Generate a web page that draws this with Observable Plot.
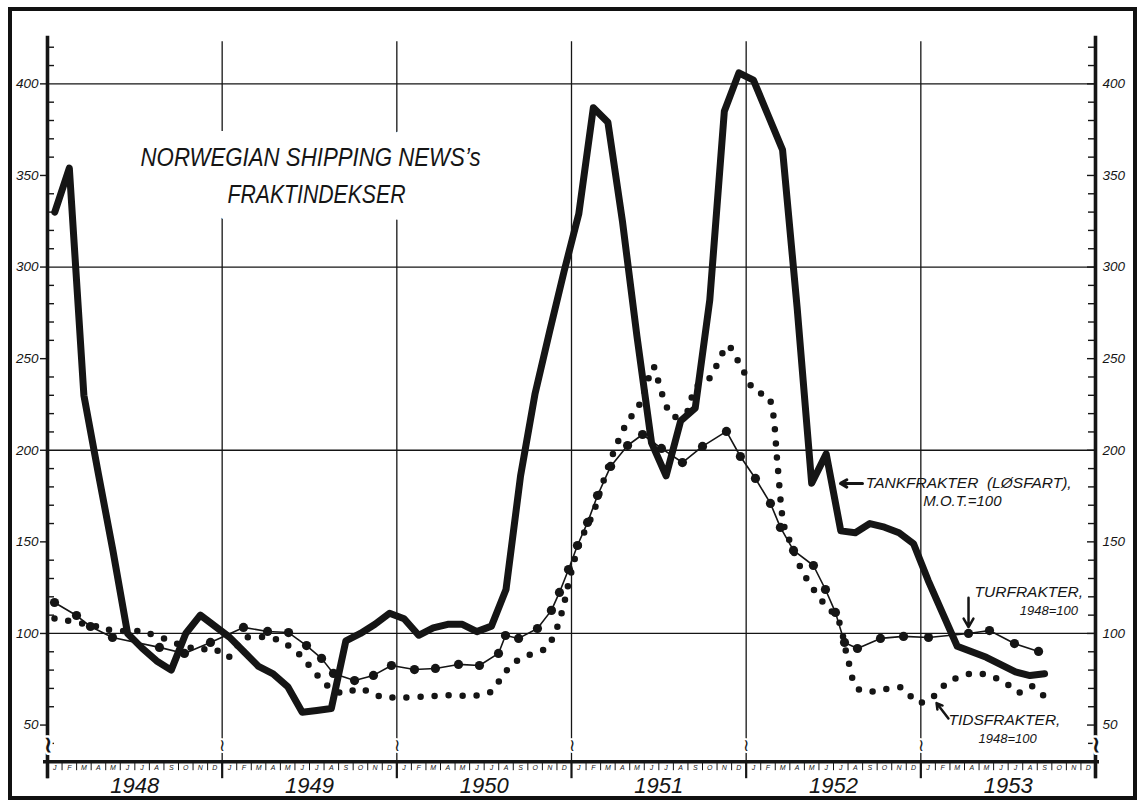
<!DOCTYPE html>
<html>
<head>
<meta charset="utf-8">
<script src="https://cdn.jsdelivr.net/npm/d3@7"></script>
<script src="https://cdn.jsdelivr.net/npm/@observablehq/plot@0.6"></script>
<style>
html, body { margin: 0; padding: 0; background: #fff; }
#wrap { position: relative; width: 1142px; height: 800px; overflow: hidden; }
#frame { position: absolute; left: 8px; top: 7px; width: 1121px; height: 785px; border: 4px solid #111; pointer-events: none; }
</style>
</head>
<body>
<div id="wrap"><div id="frame"></div></div>
<script>
// ---- axes / labels ----
const years = [1948, 1949, 1950, 1951, 1952, 1953];
const yearBounds = [1948, 1949, 1950, 1951, 1952, 1953, 1954];
const monthLetters = ["J","F","M","A","M","J","J","A","S","O","N","D"];
const yGrid = [100, 200, 300, 400];
const yMajor = [50, 100, 150, 200, 250, 300, 350, 400];
const yMinor = [40, 60, 70, 80, 90, 110, 120, 130, 140, 160, 170, 180, 190, 210, 220, 230, 240, 260, 270, 280, 290, 310, 320, 330, 340, 360, 370, 380, 390, 410, 420];
const titleLines = ["NORWEGIAN SHIPPING NEWS\u2019s", "FRAKTINDEKSER"];
const titleWidths = [340, 178];

// ---- Tankfrakter (løsfart), M.O.T.=100 : monthly, Jan 1948 .. Sep 1953 ----
const tankValues = [
  330, 354, 230, 187, 145, 100, 92, 85, 80, 100, 110, 104,
  98, 90, 82, 78, 71, 57, 58, 59, 96, 100, 105, 111,
  108, 99, 103, 105, 105, 101, 104, 124, 186, 231, 265, 298,
  329, 387, 379, 325, 262, 204, 186, 216, 223, 282, 385, 406,
  402, 383, 364, 278, 182, 198, 156, 155, 160, 158, 155, 149,
  129, 111, 93, 90, 87, 83, 79, 77, 78
];

// ---- Turfrakter, 1948=100 (decimal year, index) ----
const turDates = [
  1948.040, 1948.166, 1948.246, 1948.372, 1948.641, 1948.784, 1948.933,
  1949.122, 1949.260, 1949.380, 1949.483, 1949.569, 1949.637, 1949.758, 1949.866, 1949.969,
  1950.101, 1950.221, 1950.353, 1950.473, 1950.582, 1950.622, 1950.697, 1950.805, 1950.885, 1950.931, 1950.983,
  1951.034, 1951.092, 1951.149, 1951.224, 1951.321, 1951.407, 1951.515, 1951.635, 1951.750, 1951.887, 1951.967,
  1952.053, 1952.139, 1952.196, 1952.271, 1952.385, 1952.454, 1952.511, 1952.563, 1952.637, 1952.769, 1952.901,
  1953.044, 1953.273, 1953.393, 1953.536, 1953.674
];
const turValues = [
  116.9, 109.8, 103.8, 97.8, 92.4, 89.1, 95.1,
  103.3, 101.1, 100.5, 93.4, 86.4, 78.2, 74.3, 77.1, 82.5,
  80.3, 80.9, 83.1, 82.5, 89.1, 98.9, 97.3, 102.7, 112.6, 122.4, 134.9,
  148.0, 160.6, 175.3, 191.2, 202.6, 208.6, 201.0, 193.3, 202.1, 210.3, 196.6,
  184.6, 171.0, 157.9, 145.3, 137.1, 124.0, 111.5, 95.1, 91.8, 97.3, 98.4,
  97.8, 100.0, 101.6, 94.5, 90.2
];

// ---- Tidsfrakter, 1948=100 (decimal year, index) ----
const tidsDates = [
  1948.040, 1948.286, 1948.372, 1948.532, 1948.618, 1948.790, 1948.876, 1948.950, 1949.031, 1949.076,
  1949.122, 1949.288, 1949.368, 1949.443, 1949.546, 1949.609, 1949.695, 1949.786, 1949.866, 1949.958,
  1950.290, 1950.462, 1950.542, 1950.588, 1950.639, 1950.708, 1950.851, 1950.897, 1950.948, 1950.983,
  1951.046, 1951.126, 1951.166, 1951.223, 1951.309, 1951.395, 1951.441, 1951.469, 1951.492, 1951.538,
  1951.578, 1951.658, 1951.710, 1951.784, 1951.853, 1951.893, 1951.973, 1952.053, 1952.122, 1952.151,
  1952.179, 1952.214, 1952.237, 1952.328, 1952.454, 1952.523, 1952.580, 1952.637, 1952.723, 1952.889,
  1952.981, 1953.050, 1953.164, 1953.313, 1953.473, 1953.559, 1953.639, 1953.725
];
const tidsValues = [
  108.2, 103.8, 101.6, 101.1, 98.9, 92.9, 91.3, 91.8, 86.9, 91.8,
  97.3, 97.3, 94.0, 88.5, 77.1, 71.1, 67.2, 70.0, 66.7, 65.1,
  66.2, 66.2, 68.3, 74.3, 80.9, 86.4, 91.8, 98.4, 112.6, 127.3,
  149.1, 166.0, 178.1, 194.4, 213.5, 226.1, 239.2, 245.7, 239.2, 225.5,
  218.4, 220.6, 234.3, 238.6, 250.7, 257.2, 245.2, 232.1, 229.9, 221.7,
  192.8, 160.0, 153.5, 132.8, 115.3, 108.2, 86.9, 70.0, 68.3, 70.5,
  62.3, 64.0, 73.8, 78.2, 73.8, 67.8, 71.1, 63.4
];

const X0 = 1948, X1 = 1954, YB = 30, YT = 426;
const tank = tankValues.map((v, i) => ({x: X0 + (i + 0.5) / 12, v}));
const tur = turDates.map((d, i) => ({x: d, v: turValues[i]}));
const tids = tidsDates.map((d, i) => ({x: d, v: tidsValues[i]}));
const monthTicks = years.flatMap(y => monthLetters.map((m, k) => y + k / 12));
const monthLabels = years.flatMap(y => monthLetters.map((m, k) => ({x: y + (k + 0.5) / 12, t: m})));

const ink = "#151515";
const font = "'Liberation Sans', Arial, sans-serif";

const chart = Plot.plot({
  width: 1142,
  height: 800,
  marginLeft: 47,
  marginRight: 47,
  marginTop: 28.4,
  marginBottom: 38.8,
  x: {domain: [X0, X1], axis: null},
  y: {domain: [YB, 430], axis: null},
  style: {fontFamily: font, background: "transparent", color: ink},
  marks: [
    // grid
    Plot.ruleY(yGrid, {x1: X0, x2: X1, stroke: ink, strokeWidth: 1.3}),
    Plot.ruleX(years.slice(1), {y1: YB, y2: YT - 3, stroke: ink, strokeWidth: 1.3}),
    // title with white halo that breaks the grid lines
    Plot.text(titleLines, {
      x: [1949.506, 1949.540], y: [359.8, 339.6], text: d => d,
      fontSize: 25, fontStyle: "italic", fill: ink,
      stroke: "white", strokeWidth: 34, strokeLinejoin: "round"
    }),
    // break marks on verticals
    Plot.text(years.slice(1), {x: d => d, y: 38.9, text: () => "\u2240", fontSize: 17, fill: ink, stroke: "white", strokeWidth: 4}),
    // series
    Plot.line(tids, {x: "x", y: "v", curve: "catmull-rom", stroke: ink, strokeWidth: 6.5, strokeDasharray: "0 14", strokeLinecap: "round"}),
    Plot.line(tur, {x: "x", y: "v", stroke: ink, strokeWidth: 1.6}),
    Plot.dot(tur, {x: "x", y: "v", r: 4.6, fill: ink}),
    Plot.line(tank, {x: "x", y: "v", stroke: ink, strokeWidth: 7, strokeLinejoin: "round"}),
    // left / right axis lines
    Plot.ruleX([X0, X1], {y1: YT, y2: YB, insetBottom: -17, stroke: ink, strokeWidth: 3.6}),
    // minor ticks (inside)
    Plot.ruleY(yMinor, {x1: X0, x2: X0, insetRight: -7, stroke: ink, strokeWidth: 1.4}),
    Plot.ruleY(yMinor, {x1: X1, x2: X1, insetLeft: -7, stroke: ink, strokeWidth: 1.4}),
    // major ticks
    Plot.ruleY(yMajor, {x1: X0, x2: X0, insetLeft: -7, stroke: ink, strokeWidth: 1.4}),
    Plot.ruleY(yMajor, {x1: X1, x2: X1, insetLeft: -8, stroke: ink, strokeWidth: 1.4}),
    // axis breaks
    Plot.text([X0, X1], {x: d => d, y: 38.9, text: () => "\u2240", fontSize: 22, fontWeight: "bold", fill: ink, stroke: "white", strokeWidth: 5}),
    // y labels
    Plot.text(yMajor, {x: X0, y: d => d, text: d => String(d), dx: -9, textAnchor: "end", fontSize: 13.5, fontStyle: "italic", fill: ink}),
    Plot.text(yMajor, {x: X1, y: d => d, text: d => String(d), dx: 7, textAnchor: "start", fontSize: 13.5, fontStyle: "italic", fill: ink}),
    // bottom axis
    Plot.ruleY([YB], {x1: X0, x2: X1, insetLeft: -4, insetRight: -4, stroke: ink, strokeWidth: 3.6}),
    Plot.ruleX(monthTicks, {y1: YB, y2: YB, insetBottom: -9, stroke: ink, strokeWidth: 1}),
    Plot.ruleX(yearBounds, {y1: YB, y2: YB, insetBottom: -17, stroke: ink, strokeWidth: 2.2}),
    Plot.text(monthLabels, {x: "x", y: YB, text: "t", dy: 6, fontSize: 7, fontStyle: "italic", fill: ink}),
    Plot.text(years, {x: d => d + 0.5, y: YB, text: d => String(d), dy: 24, fontSize: 22, fontStyle: "italic", fill: ink}),
    // annotations
    Plot.arrow([0], {x1: 1952.666, y1: 181.9, x2: 1952.540, y2: 181.9, stroke: ink, strokeWidth: 3, headLength: 8}),
    Plot.text(["TANKFRAKTER  (L\u00D8SFART),"], {x: 1952.685, y: 181.9, text: d => d, textAnchor: "start", fontSize: 15.5, fontStyle: "italic", fill: ink}),
    Plot.text(["M.O.T.=100"], {x: 1953.238, y: 172.4, text: d => d, fontSize: 15, fontStyle: "italic", fill: ink}),
    Plot.arrow([0], {x1: 1953.273, y1: 119.5, x2: 1953.273, y2: 103.5, stroke: ink, strokeWidth: 2.5, headLength: 8}),
    Plot.text(["TURFRAKTER,"], {x: 1953.929, y: 122.4, text: d => d, textAnchor: "end", fontSize: 15.5, fontStyle: "italic", fill: ink}),
    Plot.text(["1948=100"], {x: 1953.900, y: 112.6, text: d => d, textAnchor: "end", fontSize: 13, fontStyle: "italic", fill: ink}),
    Plot.arrow([0], {x1: 1953.158, y1: 53.6, x2: 1953.090, y2: 62.0, stroke: ink, strokeWidth: 2.5, headLength: 8}),
    Plot.text(["TIDSFRAKTER,"], {x: 1953.158, y: 52.5, text: d => d, textAnchor: "start", fontSize: 15.5, fontStyle: "italic", fill: ink}),
    Plot.text(["1948=100"], {x: 1953.330, y: 42.7, text: d => d, textAnchor: "start", fontSize: 13, fontStyle: "italic", fill: ink})
  ]
});
// narrow the hand-lettered title to its drawn width
d3.select(chart).selectAll("text").each(function () {
  const k = titleLines.indexOf(this.textContent);
  if (k >= 0) d3.select(this).attr("textLength", titleWidths[k]).attr("lengthAdjust", "spacingAndGlyphs");
});
document.getElementById("wrap").insertBefore(chart, document.getElementById("frame"));
</script>
</body>
</html>
